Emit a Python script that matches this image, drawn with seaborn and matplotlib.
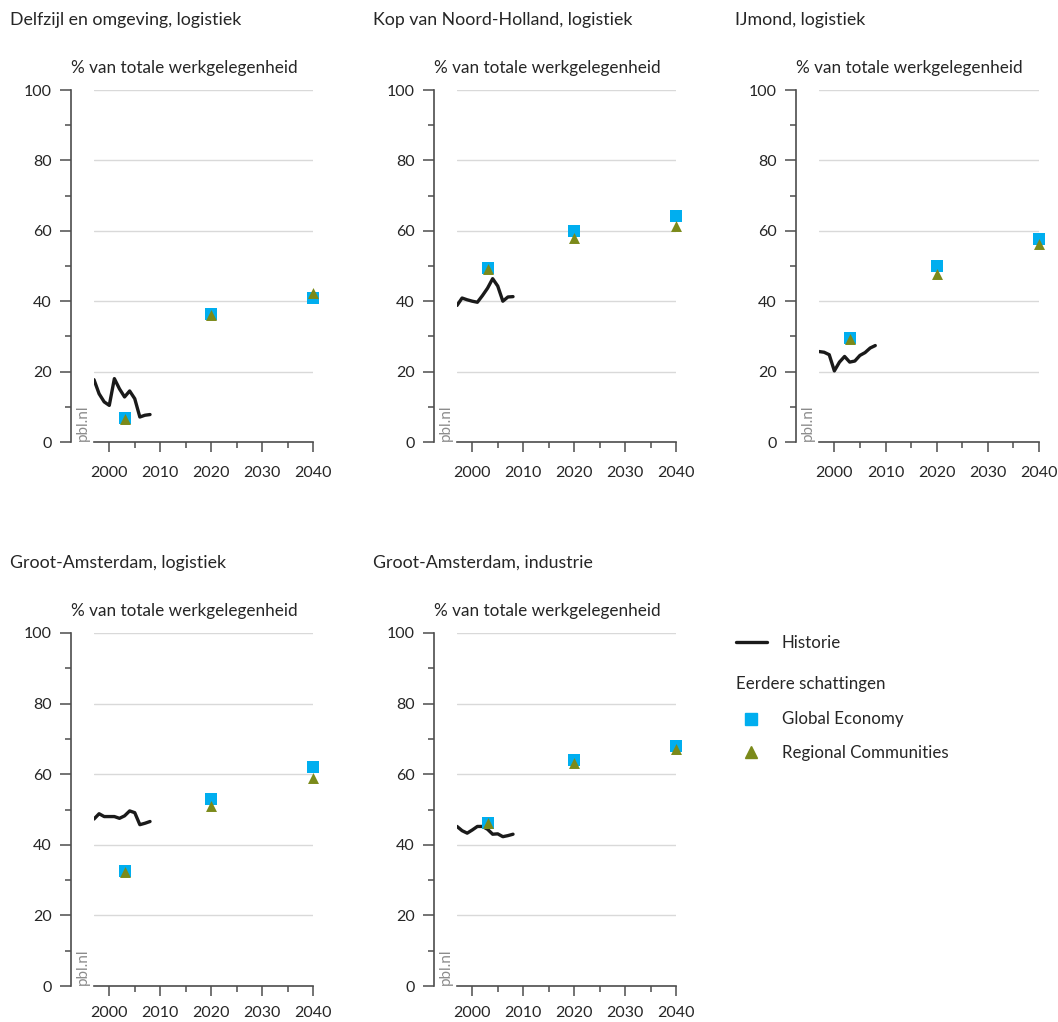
import pandas as pd

import matplotlib
matplotlib.use("Agg")
import matplotlib.pyplot as plt
from matplotlib.lines import Line2D
import seaborn as sns

# history 1997-2008 and earlier estimates (2003, 2020, 2040)
hist_years = list(range(1997, 2009))
est_years = [2003, 2020, 2040]

titles = [
    "Delfzijl en omgeving, logistiek",
    "Kop van Noord-Holland, logistiek",
    "IJmond, logistiek",
    "Groot-Amsterdam, logistiek",
    "Groot-Amsterdam, industrie",
]

hist_delfzijl = [17.7, 13.7, 11.4, 10.4, 18.0, 15.1, 12.8, 14.5, 12.3, 7.1, 7.6, 7.8]
hist_kop_nh = [38.8, 40.9, 40.4, 40.0, 39.7, 41.6, 43.7, 46.4, 44.3, 40.0, 41.2, 41.3]
hist_ijmond = [25.7, 25.5, 24.8, 20.2, 22.7, 24.3, 22.7, 23.0, 24.6, 25.4, 26.7, 27.4]
hist_ams_log = [47.3, 48.8, 48.0, 48.0, 48.0, 47.5, 48.2, 49.6, 49.1, 45.7, 46.1, 46.6]
hist_ams_ind = [45.2, 44.0, 43.3, 44.2, 45.2, 45.2, 44.4, 43.0, 43.1, 42.3, 42.6, 43.0]

ge_delfzijl = [6.8, 36.4, 40.9]
ge_kop_nh = [49.4, 59.9, 64.1]
ge_ijmond = [29.6, 49.9, 57.6]
ge_ams_log = [32.7, 53.0, 61.9]
ge_ams_ind = [46.3, 64.1, 67.9]

rc_delfzijl = [6.6, 36.1, 42.4]
rc_kop_nh = [49.2, 57.9, 61.3]
rc_ijmond = [29.2, 47.6, 56.3]
rc_ams_log = [32.4, 51.0, 58.9]
rc_ams_ind = [46.1, 63.3, 67.1]

hist_all = [hist_delfzijl, hist_kop_nh, hist_ijmond, hist_ams_log, hist_ams_ind]
ge_all = [ge_delfzijl, ge_kop_nh, ge_ijmond, ge_ams_log, ge_ams_ind]
rc_all = [rc_delfzijl, rc_kop_nh, rc_ijmond, rc_ams_log, rc_ams_ind]

c_line = "#1a1a1a"
c_ge = "#00aeef"
c_rc = "#7b8a1a"
c_axis = "#4d4d4d"
c_text = "#262626"

sns.set_theme(style="white")
plt.rcParams["font.family"] = ["Lato", "DejaVu Sans"]

W, H = 1058, 1022
fig = plt.figure(figsize=(W / 100, H / 100), dpi=100)

# axes boxes in pixels: left, top, right, bottom
boxes = [(94, 90, 313, 442), (457, 90, 676, 442), (819, 90, 1039, 442),
         (94, 633, 313, 986), (457, 633, 676, 986)]


def fx(px):
    return px / W


def fy(py):
    return 1 - py / H


for i, (l, t, r, b) in enumerate(boxes):
    ax = fig.add_axes([fx(l), fy(b), (r - l) / W, (b - t) / H])

    df_hist = pd.DataFrame({"jaar": hist_years, "waarde": hist_all[i]})
    df_ge = pd.DataFrame({"jaar": est_years, "waarde": ge_all[i]})
    df_rc = pd.DataFrame({"jaar": est_years, "waarde": rc_all[i]})

    sns.lineplot(data=df_hist, x="jaar", y="waarde", color=c_line,
                 linewidth=2.4, ax=ax, zorder=3)
    sns.scatterplot(data=df_ge, x="jaar", y="waarde", marker="s", s=68,
                    color=c_ge, linewidth=0, ax=ax, zorder=4, clip_on=False)
    sns.scatterplot(data=df_rc, x="jaar", y="waarde", marker="^", s=62,
                    color=c_rc, linewidth=0, ax=ax, zorder=5, clip_on=False)

    ax.set_xlim(1997, 2040)
    ax.set_ylim(0, 100)
    ax.set_xticks([2000, 2010, 2020, 2030, 2040])
    ax.set_xticks([2005, 2015, 2025, 2035], minor=True)
    ax.set_yticks([0, 20, 40, 60, 80, 100])
    ax.set_yticks([10, 30, 50, 70, 90], minor=True)
    ax.set_xlabel("")
    ax.set_ylabel("")

    ax.grid(axis="y", which="major", color="#d9d9d9", linewidth=1.0)
    ax.grid(axis="x", visible=False)
    for side in ["top", "right"]:
        ax.spines[side].set_visible(False)
    for side in ["left", "bottom"]:
        ax.spines[side].set_color(c_axis)
        ax.spines[side].set_linewidth(1.2)
    ax.spines["left"].set_position(("outward", 16.5))

    xpad = 10 if i < 3 else 7
    ax.tick_params(axis="x", which="major", direction="out", length=7.5,
                   width=1.1, color=c_axis, labelsize=11.5, labelcolor=c_text,
                   pad=xpad, bottom=True)
    ax.tick_params(axis="x", which="minor", direction="out", length=4,
                   width=1.1, color=c_axis, bottom=True)
    ax.tick_params(axis="y", which="major", direction="out", length=8,
                   width=1.1, color=c_axis, labelsize=11.5, labelcolor=c_text,
                   pad=6, left=True)
    ax.tick_params(axis="y", which="minor", direction="out", length=4.3,
                   width=1.1, color=c_axis, left=True)

    ax.annotate("pbl.nl", xy=(0, 0), xycoords="axes fraction",
                xytext=(-8, 1), textcoords="offset points",
                rotation=90, ha="center", va="bottom",
                fontsize=11, color="#8c8c8c")

    # panel title and unit
    fig.text(fx(l - 84), fy(t - 70), titles[i], fontsize=12.8,
             color=c_text, ha="left", va="center")
    fig.text(fx(l - 23), fy(t - 22), "% van totale werkgelegenheid",
             fontsize=12.3, color=c_text, ha="left", va="center")

# legend
h_hist = Line2D([], [], color=c_line, linewidth=2.4, label="Historie")
h_ge = Line2D([], [], color=c_ge, marker="s", markersize=8, linestyle="",
              label="Global Economy")
h_rc = Line2D([], [], color=c_rc, marker="^", markersize=8, linestyle="",
              label="Regional Communities")

leg1 = fig.legend(handles=[h_hist], loc="upper left",
                  bbox_to_anchor=(fx(736), fy(635)), frameon=False,
                  fontsize=12.2, handlelength=1.8, handletextpad=0.9,
                  borderpad=0, borderaxespad=0, labelcolor=c_text)
leg2 = fig.legend(handles=[h_ge, h_rc], loc="upper left",
                  title="Eerdere schattingen", alignment="left",
                  bbox_to_anchor=(fx(736), fy(676)), frameon=False,
                  fontsize=12.2, title_fontsize=12.2, handlelength=1.8,
                  handletextpad=0.9, labelspacing=1.05,
                  borderpad=0, borderaxespad=0, labelcolor=c_text)
leg2.get_title().set_color(c_text)
leg2._legend_box.sep = 14

fig.savefig("out.png", dpi=100)
